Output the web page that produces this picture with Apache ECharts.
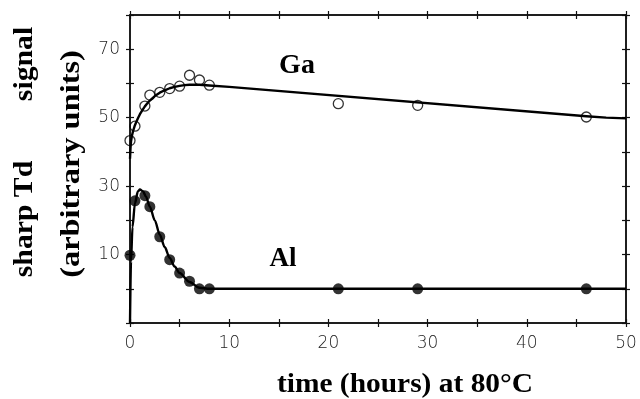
<!DOCTYPE html>
<html>
<head>
<meta charset="utf-8">
<script src="https://cdn.jsdelivr.net/npm/echarts@6/dist/echarts.min.js"></script>
<style>html,body{margin:0;padding:0;background:#fff}#c{width:640px;height:399px}</style>
</head>
<body>
<div id="c"></div>
<script>
// Measured data (time in hours, signal in arbitrary units)
const gaTime   = [0, 0.5, 1.5, 2, 3, 4, 5, 6, 7, 8, 21, 29, 46];
const gaSignal = [43.3, 47.5, 53.4, 56.6, 57.4, 58.5, 59.2, 62.4, 61, 59.5, 54.1, 53.6, 50.2];
const alTime   = [0, 0.5, 1.5, 2, 3, 4, 5, 6, 7, 8, 21, 29, 46];
const alSignal = [9.8, 25.7, 27.2, 24, 15.2, 8.5, 4.6, 2.2, 0, 0, 0, 0, 0];
// Fitted curves
const gaFitTime   = [0, 0.05, 0.1, 0.2, 0.3, 0.45, 0.6, 0.8, 1, 1.25, 1.5, 1.75, 2, 2.5, 3, 3.5, 4, 4.5, 5, 5.5, 6, 7, 8, 10, 46, 48, 50];
const gaFitSignal = [38, 41, 43, 44.8, 46, 47.4, 48.5, 49.8, 51, 52.2, 53.3, 54.2, 55, 56.3, 57.3, 58, 58.6, 59, 59.3, 59.5, 59.6, 59.6, 59.4, 59, 50.4, 50, 49.8];
const alFitTime   = [0, 0.1, 0.25, 0.5, 0.8, 1, 1.3, 1.6, 2, 2.5, 3, 3.5, 4, 4.5, 5, 6, 7, 8, 50];
const alFitSignal = [-10, 8, 18, 25, 28.5, 29, 28.5, 27, 24, 20, 15.8, 12.2, 9, 6.5, 4.6, 2, 0.3, 0, 0];
// Axis ticks
const xTickLabels = [0, 10, 20, 30, 40, 50];
const yTickLabels = [10, 30, 50, 70];

const zip = (a, b) => a.map((v, i) => [v, b[i]]);
const tickFont = {fontFamily: 'DejaVu Sans', fontSize: 17, fontWeight: 200, color: '#222'};
const serifBold = {fontFamily: 'Liberation Serif', fontWeight: 'bold', fill: '#000'};
const lineCol = '#111';

function xAx(pos, inside, showLabel) {
  return {
    type: 'value', position: pos, min: 0, max: 50, interval: 5,
    axisLine: {show: true, onZero: false, lineStyle: {color: lineCol, width: 1.5}},
    axisTick: {show: true, inside: inside, length: 4, lineStyle: {color: lineCol, width: 1.2}},
    splitLine: {show: false},
    axisLabel: showLabel ? Object.assign({
      show: true, margin: 12,
      formatter: v => xTickLabels.indexOf(v) >= 0 ? String(v) : ''
    }, tickFont) : {show: false}
  };
}
function yAx(pos, inside, showLabel) {
  return {
    type: 'value', position: pos, min: -10, max: 80, interval: 10,
    axisLine: {show: true, onZero: false, lineStyle: {color: lineCol, width: 1.5}},
    axisTick: {show: true, inside: inside, length: 4, lineStyle: {color: lineCol, width: 1.2}},
    splitLine: {show: false},
    axisLabel: showLabel ? Object.assign({
      show: true, margin: 10,
      formatter: v => yTickLabels.indexOf(v) >= 0 ? String(v) : ''
    }, tickFont) : {show: false}
  };
}
function label(text, x, y, size, sx, rot) {
  return {type: 'text', x: x, y: y, rotation: rot || 0, scaleX: sx,
    style: Object.assign({text: text, fontSize: size, align: 'center', verticalAlign: 'middle'}, serifBold)};
}

const chart = echarts.init(document.getElementById('c'), null, {renderer: 'canvas'});
chart.setOption({
  animation: false,
  backgroundColor: '#fff',
  grid: {left: 130, right: 14, top: 15, bottom: 76, containLabel: false},
  xAxis: [xAx('bottom', false, true), xAx('bottom', true, false), xAx('top', false, false), xAx('top', true, false)],
  yAxis: [yAx('left', false, true), yAx('left', true, false), yAx('right', false, false), yAx('right', true, false)],
  series: [
    {type: 'line', data: zip(gaFitTime, gaFitSignal), symbol: 'none', smooth: false,
     lineStyle: {color: '#000', width: 2.4, join: 'round'}, z: 2},
    {type: 'line', data: zip(alFitTime, alFitSignal), symbol: 'none', smooth: 0.3, smoothMonotone: 'x',
     lineStyle: {color: '#000', width: 2.4}, z: 2},
    {type: 'scatter', data: zip(gaTime, gaSignal), symbol: 'circle', symbolSize: 10,
     itemStyle: {color: 'rgba(0,0,0,0)', borderColor: '#000', borderWidth: 1.3}, z: 3},
    {type: 'scatter', data: zip(alTime, alSignal), symbol: 'circle', symbolSize: 11,
     itemStyle: {color: '#000'}, z: 3}
  ],
  graphic: [
    label('Ga', 297, 66, 28, 1.0),
    label('Al', 283, 259, 27, 1.0),
    label('sharp Td', 25, 219, 27, 1.1, Math.PI / 2),
    label('signal', 25, 64, 27, 1.1, Math.PI / 2),
    label('(arbitrary units)', 72, 164, 27, 1.2, Math.PI / 2),
    label('time (hours) at 80°C', 405, 385, 27, 1.09)
  ]
});
</script>
</body>
</html>
